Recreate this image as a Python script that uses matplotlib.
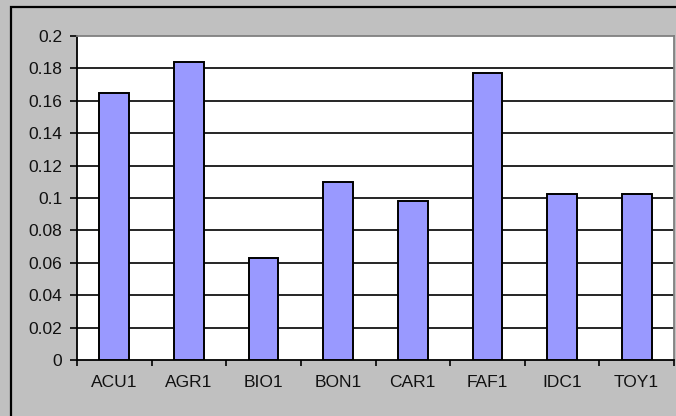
import numpy as np
import matplotlib
matplotlib.use('Agg')
import matplotlib.pyplot as plt
from matplotlib.patches import Rectangle

# 데이터
categories = ['ACU1', 'AGR1', 'BIO1', 'BON1', 'CAR1', 'FAF1', 'IDC1', 'TOY1']
values = [0.165, 0.184, 0.063, 0.110, 0.098, 0.177, 0.1025, 0.1025]
y_ticks = [0.0, 0.02, 0.04, 0.06, 0.08, 0.1, 0.12, 0.14, 0.16, 0.18, 0.2]
y_tick_labels = ['0', '0.02', '0.04', '0.06', '0.08', '0.1', '0.12', '0.14',
                 '0.16', '0.18', '0.2']

plt.rcParams['font.family'] = ['Liberation Sans', 'DejaVu Sans']

fig = plt.figure(figsize=(6.76, 4.16), dpi=100)
fig.patch.set_facecolor('#C0C0C0')

# 바깥 테두리 (오른쪽/아래는 그림 밖으로 잘림)
fig.patches.append(Rectangle((11 / 676, -0.05), 1.0, 1 - 7 / 416 + 0.05,
                             transform=fig.transFigure, fill=False,
                             edgecolor='black', lw=1.6, zorder=0))

ax = fig.add_axes([77 / 676, 1 - 360 / 416, (674 - 77) / 676, (360 - 36) / 416])
ax.set_facecolor('white')

x = np.arange(len(categories))
ax.bar(x, values, width=0.4, color='#9999FF', edgecolor='black', lw=1.4, zorder=3)

ax.set_xlim(-0.5, len(categories) - 0.5)
ax.set_ylim(0, 0.2)

# 격자선
for t in y_ticks[1:-1]:
    ax.axhline(t, color='black', lw=1.2, zorder=1)

ax.set_yticks(y_ticks)
ax.set_yticklabels(y_tick_labels, fontsize=12.5, color='#111111')
ax.tick_params(axis='y', length=5, width=1.2, pad=5.5, direction='out')

ax.set_xticks(x)
ax.set_xticklabels(categories, fontsize=12.5, color='#111111')
ax.set_xticks(np.arange(-0.5, len(categories)), minor=True)
ax.tick_params(axis='x', which='major', length=0, pad=11)
ax.tick_params(axis='x', which='minor', length=4.5, width=1.2, direction='out')

for side in ['left', 'bottom']:
    ax.spines[side].set_color('black')
    ax.spines[side].set_linewidth(1.3)
for side in ['top', 'right']:
    ax.spines[side].set_color('#808080')
    ax.spines[side].set_linewidth(1.3)

fig.savefig('out.png', dpi=100, facecolor=fig.get_facecolor())
